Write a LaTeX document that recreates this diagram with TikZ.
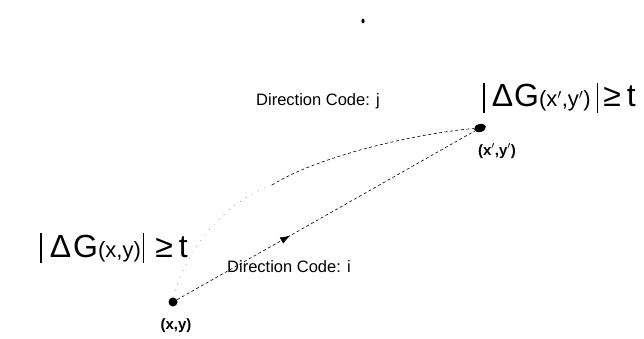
\documentclass[tikz,border=0pt]{standalone}
\usepackage{fontspec}
\setmainfont{Liberation Sans}
\usetikzlibrary{decorations.markings,arrows.meta,shapes.geometric}
\newcommand{\vbar}{\raisebox{-6pt}{\rule{1.6pt}{30pt}}}
\begin{document}
\begin{tikzpicture}[x=1pt,y=-1pt,
  pt/.style={circle,fill=black,inner sep=0pt,minimum size=9pt},
  lbl/.style={font=\fontsize{16.5}{18}\selectfont,inner sep=0pt},
  big/.style={font=\fontsize{32}{34}\selectfont,inner sep=0pt},
  coordlbl/.style={font=\bfseries\fontsize{15}{17}\selectfont,inner sep=0pt},
  conn/.style={line width=0.6pt,dash pattern=on 3pt off 2.5pt}]
\useasboundingbox (0,0) rectangle (644,339);
\node[pt] (p) at (173,302) {};
\node[ellipse,fill=black,inner sep=0pt,minimum width=12pt,minimum height=8pt,rotate=15] (q) at (480,128) {};
\fill (363,21) ellipse (1.6pt and 2.4pt);
\node[coordlbl] (pl) at (176,326) {(x,y)};
\node[coordlbl] (ql) at (497,151) {(x$'$,y$'$)};
\node[lbl,anchor=west] (dj) at (256,101) {Direction Code: j};
\node[lbl,anchor=west] (di) at (227,267) {Direction Code: i};
\node[big,anchor=west] (gq) at (483,98) {\vbar\kern7pt Δ\kern1pt G{\fontsize{22}{24}\selectfont(x$'$,y$'$)}\kern6pt\vbar\kern5pt ≥\kern6pt t};
\node[big,anchor=west] (gp) at (40,248) {\vbar\kern8pt Δ\kern2pt G{\fontsize{22}{24}\selectfont(x,y)}\kern2pt\vbar\kern11pt ≥\kern6pt t};
\draw[conn,postaction={decorate},decoration={markings,mark=at position 0.38 with {\arrow{Latex[length=10pt,width=7pt]}}}] (p) -- (q);
\coordinate (m) at (272,185);
\draw[line width=0.5pt,gray,dash pattern=on 1pt off 6pt] (p.north) .. controls (190,240) and (230,200) .. (m);
\draw[conn] (m) .. controls (320,155) and (420,133) .. (q);
\end{tikzpicture}
\end{document}
